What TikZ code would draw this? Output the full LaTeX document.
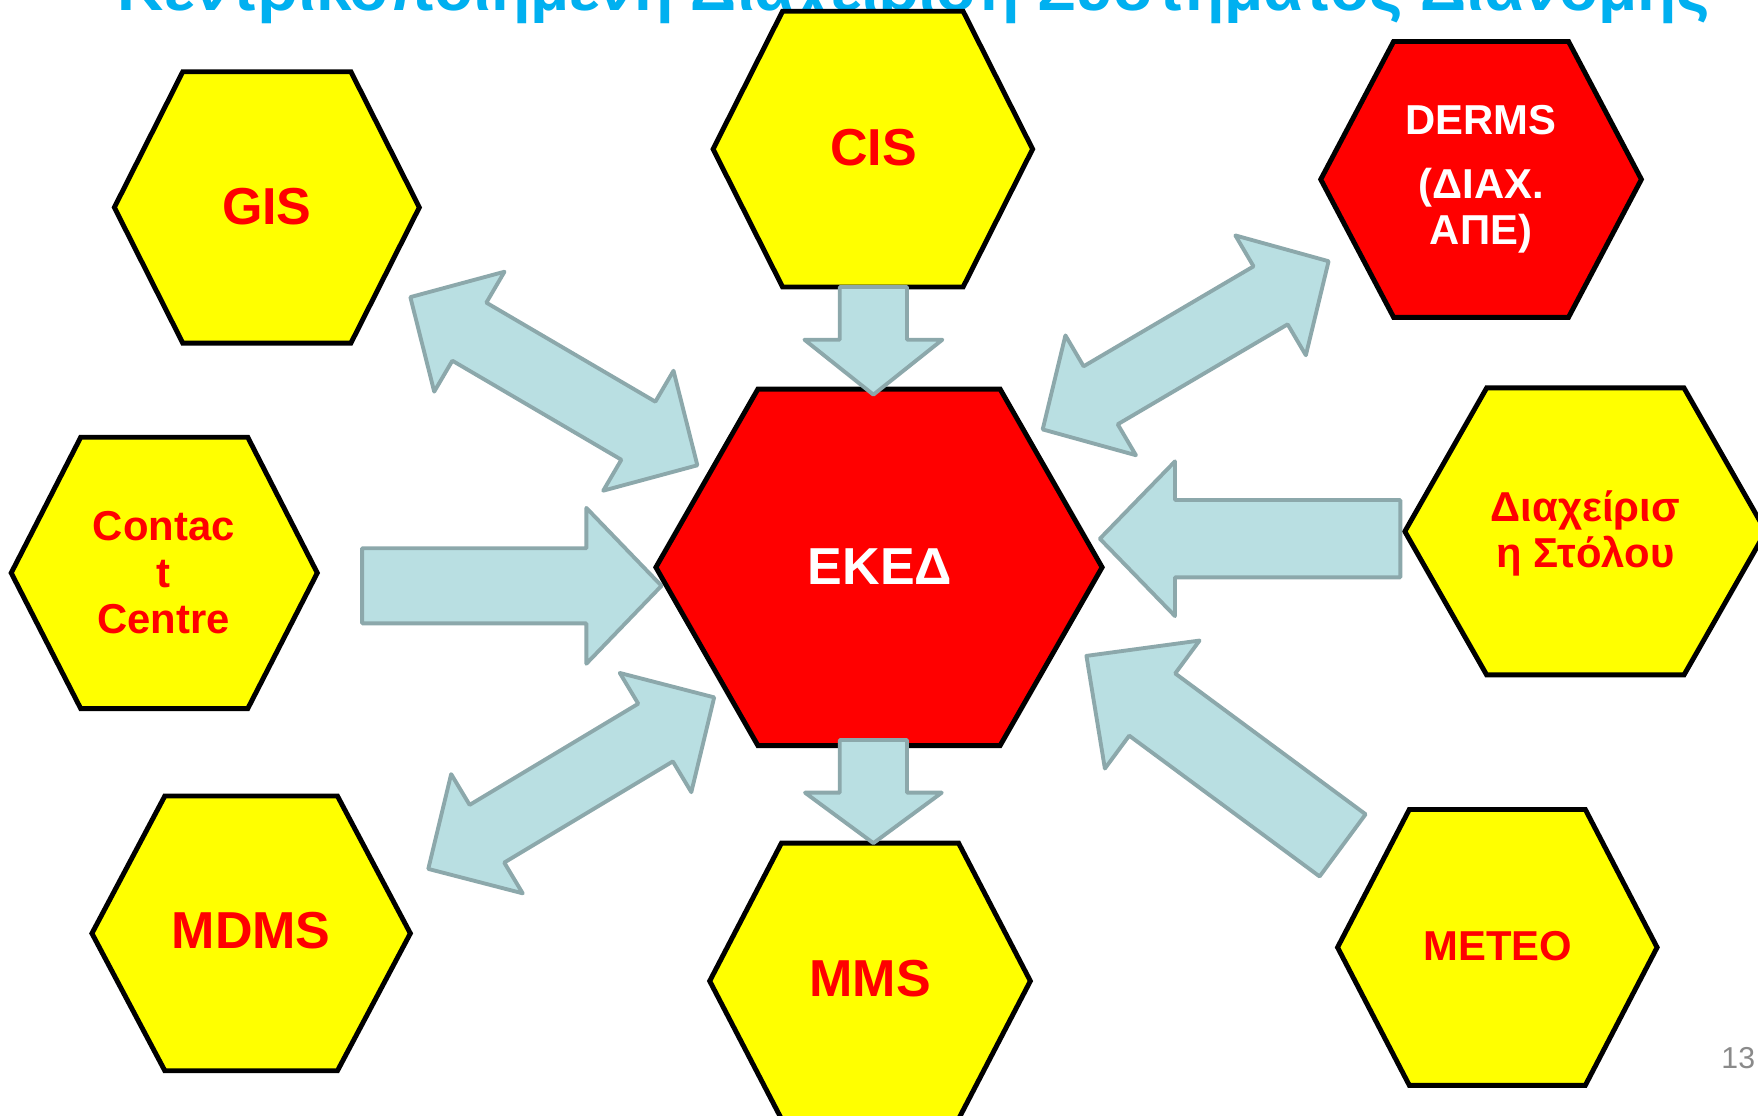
\documentclass[tikz,border=0pt]{standalone}
\usepackage{fontspec}
\usepackage{graphicx}
\setmainfont{Liberation Sans}
\usetikzlibrary{calc}

\definecolor{hexyellow}{HTML}{FFFF00}
\definecolor{hexred}{HTML}{FF0000}
\definecolor{arrowfill}{HTML}{B9DFE2}
\definecolor{arrowline}{HTML}{8CA8AB}
\definecolor{titleblue}{HTML}{00B0F0}
\definecolor{pagegray}{HTML}{8A8A8A}

% one drawing unit
\newcommand{\px}{0.011212cm}

\tikzset{
  hexline/.style={draw=black, line width=1.4pt},
  yellowhex/.style={hexline, fill=hexyellow},
  redhex/.style={hexline, fill=hexred},
  bigtext/.style={font=\fontsize{14.8}{16}\selectfont\bfseries, align=center, inner sep=0pt},
  smalltext/.style={font=\fontsize{11.9}{13.2}\selectfont\bfseries, align=center, inner sep=0pt},
  onyellow/.style={text=hexred},
  onred/.style={text=white},
  blockarrow/.style={fill=arrowfill, draw=arrowline, line width=1.1pt, line join=round},
}

% hexagon: style, centre x, centre y, half width, half height, corner inset
\newcommand{\hexshape}[6]{%
  \draw[#1] ({#2-#4},#3) -- ({#2-#4+#6},{#3-#5}) -- ({#2+#4-#6},{#3-#5})
    -- ({#2+#4},#3) -- ({#2+#4-#6},{#3+#5}) -- ({#2-#4+#6},{#3+#5}) -- cycle;}

% single block arrow: tail, tip, shaft width, head width, head length
\newcommand{\sglarrow}[5]{%
  \coordinate (hb) at ($(#2)!{#5*\px}!(#1)$);
  \draw[blockarrow] ($(#1)!{#3/2*\px}!90:(#2)$)
    -- ($(hb)!{#3/2*\px}!-90:(#1)$) -- ($(hb)!{#4/2*\px}!-90:(#1)$)
    -- (#2)
    -- ($(hb)!{#4/2*\px}!90:(#1)$) -- ($(hb)!{#3/2*\px}!90:(#1)$)
    -- ($(#1)!{#3/2*\px}!-90:(#2)$) -- cycle;}

% double block arrow: tip, tip, shaft width, head width, head length
\newcommand{\dblarrow}[5]{%
  \coordinate (ha) at ($(#1)!{#5*\px}!(#2)$);
  \coordinate (hb) at ($(#2)!{#5*\px}!(#1)$);
  \draw[blockarrow] (#1)
    -- ($(ha)!{#4/2*\px}!90:(#2)$) -- ($(ha)!{#3/2*\px}!90:(#2)$)
    -- ($(hb)!{#3/2*\px}!-90:(#1)$) -- ($(hb)!{#4/2*\px}!-90:(#1)$)
    -- (#2)
    -- ($(hb)!{#4/2*\px}!90:(#1)$) -- ($(hb)!{#3/2*\px}!90:(#1)$)
    -- ($(ha)!{#3/2*\px}!-90:(#2)$) -- ($(ha)!{#4/2*\px}!-90:(#2)$)
    -- cycle;}

\begin{document}
\begin{tikzpicture}[x=\px, y=-\px]
\useasboundingbox (0,0) rectangle (1568,995);
\clip (0,0) rectangle (1568,995);
\fill[white] (0,0) rectangle (1568,995);

% heading
\node[anchor=base, text=titleblue, font=\bfseries, inner sep=0pt] (title) at (815,9)
  {\resizebox{15.92cm}{!}{Κεντρικοποιημένη Διαχείριση Συστήματος Διανομής}};

% hexagons
\hexshape{yellowhex}{238}{185}{136}{121}{61}
\hexshape{yellowhex}{778.5}{133}{142.5}{123}{62}
\hexshape{redhex}{1321}{160}{143}{123}{65}
\hexshape{yellowhex}{146.5}{511}{136.5}{121}{62}
\hexshape{redhex}{784}{506}{199}{159}{91}
\hexshape{yellowhex}{1414}{474}{161}{128}{73}
\hexshape{yellowhex}{224}{832.5}{142}{122.5}{65}
\hexshape{yellowhex}{776}{875}{143}{123}{64}
\hexshape{yellowhex}{1335.5}{845}{142.5}{123}{64}

% labels
\node[bigtext, onyellow] (gis) at (238,184) {GIS};
\node[bigtext, onyellow] (cis) at (779,132) {CIS};
\node[smalltext, onred] (derms) at (1321,160) {DERMS\\[5pt](ΔΙΑΧ.\\ΑΠΕ)};
\node[smalltext, onyellow] (contact) at (146,511) {Contac\\t\\Centre};
\node[bigtext, onred] (ekd) at (785,505) {ΕΚΕΔ};
\node[smalltext, onyellow] (fleet) at (1414,476) {Διαχείρισ\\η Στόλου};
\node[bigtext, onyellow] (mdms) at (224,830) {MDMS};
\node[bigtext, onyellow] (mms) at (776,873) {MMS};
\node[smalltext, onyellow] (meteo) at (1336,844) {METEO};

% arrow end points
\coordinate (cisout) at (779,256);
\coordinate (ekdtop) at (779,352);
\coordinate (ekdout) at (779,660);
\coordinate (mmsin) at (779,752);
\coordinate (contactout) at (323,522.5);
\coordinate (ekdleft) at (590,522.5);
\coordinate (fleetout) at (1249,480.5);
\coordinate (ekdright) at (981,480.5);
\coordinate (meteoout) at (1197.5,754);
\coordinate (ekdlowright) at (969,585);
\coordinate (gisend) at (366,265);
\coordinate (ekdupleft) at (622,415);
\coordinate (dermsend) at (1185,233);
\coordinate (ekdupright) at (930,383);
\coordinate (ekdlowleft) at (637,622);
\coordinate (mdmsend) at (382,775);

% connectors
\sglarrow{cisout}{ekdtop}{60}{123}{49}
\sglarrow{ekdout}{mmsin}{60}{122}{45}
\sglarrow{contactout}{ekdleft}{67}{139}{67}
\sglarrow{fleetout}{ekdright}{69}{138}{67}
\sglarrow{meteoout}{ekdlowright}{69}{142}{73}
\dblarrow{gisend}{ekdupleft}{60}{124}{61}
\dblarrow{dermsend}{ekdupright}{60}{124}{60}
\dblarrow{ekdlowleft}{mdmsend}{60}{124}{61}

% page number
\node[anchor=base east, text=pagegray, font=\fontsize{8.6}{10}\selectfont, inner sep=0pt] (page) at (1566,953) {13};
\end{tikzpicture}
\end{document}
